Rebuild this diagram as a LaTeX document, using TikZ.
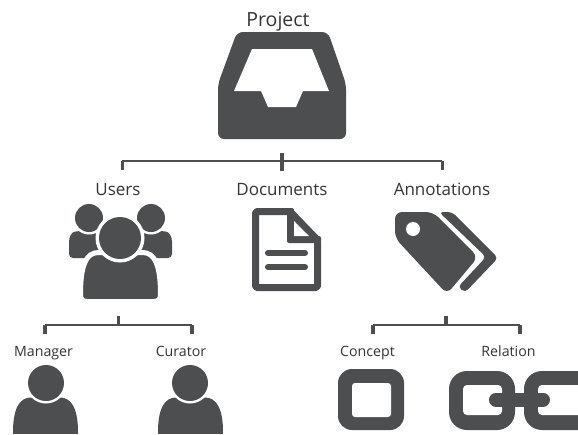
\documentclass[tikz,border=0pt]{standalone}
\usepackage{fontspec}
\setmainfont{Open Sans}
\definecolor{ink}{HTML}{4D4E50}
\definecolor{txt}{HTML}{333436}
\tikzset{
  icon/.style={fill=ink,draw=none},
  hole/.style={fill=white,draw=none},
  halo/.style={fill=ink,draw=white,line width=5pt},
  bar/.style={draw=ink,line width=1.6pt},
  tick/.style={draw=ink,line width=3.5pt},
  big/.style={font=\fontsize{19.5}{22}\selectfont,text=txt,anchor=base,inner sep=0pt},
  mid/.style={font=\fontsize{17}{20}\selectfont,text=txt,anchor=base,inner sep=0pt},
  small/.style={font=\fontsize{14.2}{16}\selectfont,text=txt,anchor=base,inner sep=0pt},
}
% style, left, right, top, straight-side end (bottom corners radius 7 below it)
\newcommand{\personbody}[5]{%
  \path[#1]
    (#2,#5) .. controls (#2,{#4+12}) and ({#2+6},#4) .. ({#2+18},#4)
    -- ({#3-18},#4)
    .. controls ({#3-6},#4) and (#3,{#4+12}) .. (#3,#5)
    .. controls (#3,{#5+5}) and ({#3-2},{#5+7}) .. ({#3-7},{#5+7})
    -- ({#2+7},{#5+7}) .. controls ({#2+2},{#5+7}) and (#2,{#5+5}) .. (#2,#5) -- cycle;
}
\begin{document}
\begin{tikzpicture}[x=1pt,y=-1pt]
\path[use as bounding box,fill=white] (0,0) rectangle (578,434);
\clip (0,0) rectangle (578,434);

% labels
\node[big] (project) at (278,26) {Project};
\node[mid] (users) at (118,195) {Users};
\node[mid] (documents) at (282,195) {Documents};
\node[mid] (annotations) at (442,195) {Annotations};
\node[small] (manager) at (43.5,356) {Manager};
\node[small] (curator) at (181,356) {Curator};
\node[small] (concept) at (367.5,356) {Concept};
\node[small] (relation) at (508.5,356) {Relation};

% tray
\fill[icon,rounded corners=6pt] (237,32) -- (328,32) -- (346,84) -- (346,139) -- (218,139) -- (218,84) -- cycle;
\fill[hole] (252,49) -- (312,49) -- (329,91) -- (303,91) -- (296,107) -- (268,107) -- (261,91) -- (234,91) -- cycle;

% top tree
\coordinate (t0) at (282,153);
\coordinate (t1) at (282,171);
\coordinate (tl) at (122,161);
\coordinate (tr) at (442,161);
\coordinate (tla) at (122,170);
\coordinate (tra) at (442,170);
\draw[bar] (tl) -- (tr);
\draw[draw=ink,line width=4pt] (t0) -- (t1);
\draw[draw=ink,line width=3pt] (tl) -- (tla);
\draw[draw=ink,line width=3pt] (tr) -- (tra);

% users
\fill[icon,rounded corners=4pt] (69,258) -- (69,246) .. controls (69,236) and (72,232) .. (79,231) -- (120,231) -- (120,258) -- cycle;
\fill[icon,rounded corners=4pt] (172,258) -- (172,246) .. controls (172,236) and (169,232) .. (162,231) -- (120,231) -- (120,258) -- cycle;
\fill[white] (89,218) circle (16.5);
\fill[white] (151,218) circle (16.5);
\fill[icon] (89,218) circle (14);
\fill[icon] (151,218) circle (14);
\personbody{halo}{80.5}{160.5}{252.5}{294.5}
\fill[white] (120,238) circle (24.5);
\fill[icon] (120,238) circle (21);

% document
\draw[draw=ink,line width=7pt,line join=round,fill=white,rounded corners=2pt] (255.5,211.5) -- (290,211.5) -- (317.5,240) -- (317.5,287.5) -- (255.5,287.5) -- cycle;
\fill[icon,rounded corners=2pt] (287,208) -- (294,208) -- (294,236) -- (321,236) -- (321,243) -- (287,243) -- cycle;
\fill[hole] (294,222) -- (309,236) -- (294,236) -- cycle;
\draw[draw=ink,line width=6pt,line cap=round] (268,253) -- (305,253);
\draw[draw=ink,line width=6pt,line cap=round] (268,267) -- (305,267);

% tags
\fill[icon,rounded corners=4pt] (439,212) -- (452,212) -- (498,258) -- (465,292.5) -- (458,287) -- (486,257) -- cycle;
\fill[icon,rounded corners=7pt] (395,212) -- (433,212) -- (478,257) -- (447,294) -- (395,238) -- cycle;
\fill[hole] (413,229) circle (7);

% left tree
\coordinate (l0) at (118.5,316);
\coordinate (l1) at (118.5,325);
\coordinate (ll) at (45,325);
\coordinate (lr) at (192,325);
\coordinate (lla) at (45,334);
\coordinate (lra) at (192,334);
\draw[bar] (ll) -- (lr);
\draw[tick] (l0) -- (l1);
\draw[tick] (ll) -- (lla);
\draw[tick] (lr) -- (lra);

% right tree
\coordinate (r0) at (446,316);
\coordinate (r1) at (446,325);
\coordinate (rl) at (373,325);
\coordinate (rr) at (520,325);
\coordinate (rla) at (373,334);
\coordinate (rra) at (520,334);
\draw[bar] (rl) -- (rr);
\draw[tick] (r0) -- (r1);
\draw[tick] (rl) -- (rla);
\draw[tick] (rr) -- (rra);

% persons
\begin{scope}
\clip (0,0) rectangle (578,433);
\personbody{icon}{13}{78}{397.5}{432}
\personbody{icon}{158}{223}{397.5}{432}
\end{scope}
\fill[white] (46,383) circle (20.5);
\fill[white] (190,383) circle (20.5);
\fill[icon] (46,383) circle (18);
\fill[icon] (190,383) circle (18);

% concept
\fill[icon,rounded corners=14pt] (338,369) rectangle (404,430);
\fill[hole,rounded corners=3pt] (352,383) rectangle (391,417);

% relation
\fill[icon,rounded corners=18pt] (449,371) rectangle (515,430);
\fill[hole,rounded corners=4pt] (463,385) rectangle (502,415);
\fill[icon,rounded corners=18pt] (524,371) rectangle (600,430);
\fill[hole,rounded corners=4pt] (538,385) rectangle (588,415);
\draw[draw=ink,line width=14pt,line cap=round] (496,399.5) -- (543,399.5);
\end{tikzpicture}
\end{document}
